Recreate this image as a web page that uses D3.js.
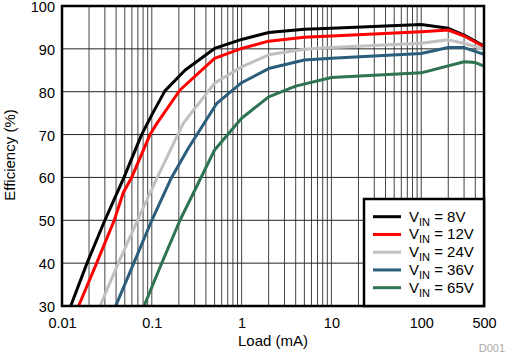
<!DOCTYPE html>
<html>
<head>
<meta charset="utf-8">
<title>Efficiency vs Load</title>
<style>
  body { margin: 0; background: #fff; }
  text { font-family: "Liberation Sans", Arial, sans-serif; }
</style>
</head>
<body>
<script src="https://cdn.jsdelivr.net/npm/d3@7"></script>
<script>
// data (load in mA, efficiency in %)
var load8 = [0.0125, 0.019, 0.03, 0.049, 0.077, 0.1, 0.14, 0.234, 0.5, 1, 2, 5, 10, 100, 200, 300, 500];
var eff8 = [30, 40, 50, 60, 70, 74.6, 80.2, 85, 90.1, 92.2, 93.8, 94.6, 94.8, 95.7, 94.8, 93.2, 90.7];
var load12 = [0.0153, 0.0243, 0.0382, 0.0482, 0.0597, 0.0955, 0.113, 0.206, 0.5, 1, 2, 5, 10, 100, 200, 300, 500];
var eff12 = [30, 40, 50, 56.5, 60, 70, 72.5, 80.4, 87.8, 90.1, 91.8, 92.7, 93.0, 94.0, 94.4, 93.0, 90.5];
var load24 = [0.0265, 0.0424, 0.0692, 0.115, 0.224, 0.5, 1, 2, 5, 10, 100, 200, 300, 500];
var eff24 = [30, 40, 50, 60, 72.6, 82.0, 85.8, 88.6, 89.9, 90.3, 91.3, 92.1, 91.3, 89.9];
var load36 = [0.0396, 0.063, 0.1, 0.166, 0.255, 0.53, 1, 2, 5, 10, 100, 200, 300, 500];
var eff36 = [30, 40, 50, 60, 66.8, 77.3, 82.1, 85.4, 87.4, 87.8, 88.9, 90.3, 90.3, 88.7];
var load65 = [0.0819, 0.129, 0.206, 0.5, 1, 2, 4, 10, 100, 300, 400, 500];
var eff65 = [30, 40, 50, 66.4, 73.8, 78.8, 81.3, 83.3, 84.4, 87.0, 86.8, 86.0];

var seriesNames = ["8V", "12V", "24V", "36V", "65V"];
var seriesColors = ["#000000", "#ff0000", "#c0c0c0", "#2b5d7d", "#2e7352"];
var seriesLoads = [load8, load12, load24, load36, load65];
var seriesEffs = [eff8, eff12, eff24, eff36, eff65];

var xTicks = [0.01, 0.1, 1, 10, 100, 500];
var yTicks = [30, 40, 50, 60, 70, 80, 90, 100];

var width = 506, height = 354;
var margin = { top: 6, right: 22, bottom: 48, left: 62 };
var iw = width - margin.left - margin.right;
var ih = height - margin.top - margin.bottom;

var svg = d3.select("body").append("svg")
    .attr("width", width)
    .attr("height", height);

var x = d3.scaleLog().domain([0.01, 500]).range([0, iw]);
var y = d3.scaleLinear().domain([30, 100]).range([ih, 0]);

var g = svg.append("g")
    .attr("transform", "translate(" + margin.left + "," + margin.top + ")");

g.append("clipPath").attr("id", "clip")
  .append("rect").attr("width", iw).attr("height", ih);

// grid lines
var minor = [];
for (var e = -2; e <= 2; e++) {
  for (var m = 1; m <= 9; m++) {
    var v = m * Math.pow(10, e);
    if (v > 0.01 && v < 500) minor.push(v);
  }
}
g.selectAll(".vgrid").data(minor).enter().append("line")
    .attr("class", "vgrid")
    .attr("x1", d => x(d)).attr("x2", d => x(d))
    .attr("y1", 0).attr("y2", ih)
    .attr("stroke", "#444").attr("stroke-width", 1);
g.selectAll(".hgrid").data(yTicks.slice(1, -1)).enter().append("line")
    .attr("class", "hgrid")
    .attr("x1", 0).attr("x2", iw)
    .attr("y1", d => y(d)).attr("y2", d => y(d))
    .attr("stroke", "#222").attr("stroke-width", 1);

// axes (labels only, frame drawn below)
var xAxis = g.append("g")
    .attr("transform", "translate(0," + ih + ")")
    .call(d3.axisBottom(x).tickValues(xTicks).tickSize(0).tickPadding(12)
      .tickFormat(d => String(d)));
var yAxis = g.append("g")
    .call(d3.axisLeft(y).tickValues(yTicks).tickSize(0).tickPadding(7));
[xAxis, yAxis].forEach(function (a) {
  a.select(".domain").remove();
  a.selectAll("text").attr("font-size", 14.5)
    .attr("font-family", "'Liberation Sans', Arial, sans-serif").attr("fill", "#000");
});
yAxis.selectAll("text").attr("dy", "0.38em");

// curves
var line = d3.line()
    .x(d => x(d[0]))
    .y(d => y(d[1]));
seriesNames.forEach(function (name, i) {
  var pts = seriesLoads[i].map((l, j) => [l, seriesEffs[i][j]]);
  g.append("path")
      .datum(pts)
      .attr("clip-path", "url(#clip)")
      .attr("fill", "none")
      .attr("stroke", seriesColors[i])
      .attr("stroke-width", 3)
      .attr("stroke-linejoin", "round")
      .attr("d", line);
});

// frame
g.append("rect")
    .attr("width", iw).attr("height", ih)
    .attr("fill", "none").attr("stroke", "#000").attr("stroke-width", 2.5);

// legend
var lg = g.append("g").attr("transform", "translate(" + (364 - margin.left) + "," + (199 - margin.top) + ")");
lg.append("rect")
    .attr("width", 484 - 364).attr("height", 306 - 199)
    .attr("fill", "#fff").attr("stroke", "#000").attr("stroke-width", 2.5);
var rows = lg.selectAll(".row").data(seriesNames).enter().append("g")
    .attr("transform", (d, i) => "translate(0," + (17.7 + i * 17.75) + ")");
rows.append("line")
    .attr("x1", 9).attr("x2", 37)
    .attr("stroke", (d, i) => seriesColors[i]).attr("stroke-width", 3);
var lt = rows.append("text")
    .attr("x", 45).attr("y", 5)
    .attr("font-size", 15);
lt.append("tspan").text("V");
lt.append("tspan").attr("dy", 4).attr("font-size", 11).text("IN");
lt.append("tspan").attr("dy", -4).text(d => " = " + d);

// axis titles
svg.append("text")
    .attr("x", margin.left + iw / 2).attr("y", 345.5)
    .attr("text-anchor", "middle").attr("font-size", 15)
    .text("Load (mA)");
svg.append("text")
    .attr("transform", "translate(15," + 155 + ") rotate(-90)")
    .attr("text-anchor", "middle").attr("font-size", 15)
    .text("Efficiency (%)");
svg.append("text")
    .attr("x", 505).attr("y", 352)
    .attr("text-anchor", "end").attr("font-size", 11).attr("fill", "#aaa")
    .text("D001");
</script>
</body>
</html>
